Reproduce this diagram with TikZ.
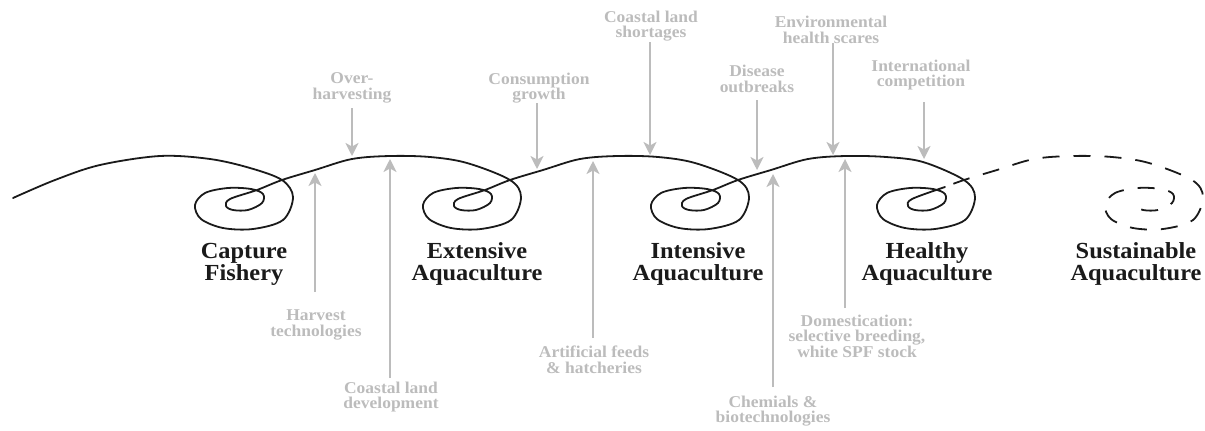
\documentclass[tikz,border=0pt]{standalone}
\usepackage{fontspec}
\setmainfont[FakeStretch=1.06]{Liberation Serif}
\usetikzlibrary{arrows.meta}
\definecolor{lgray}{RGB}{188,188,188}
\definecolor{ink}{RGB}{26,26,26}
\tikzset{
  stage/.style={align=center, inner sep=0pt, text=ink, font={\fontsize{23}{22}\selectfont\bfseries}},
  cause/.style={align=center, inner sep=0pt, text=lgray, font={\fontsize{16.5}{15.5}\selectfont\bfseries}},
  arr/.style={draw=lgray, line width=2pt, -{Stealth[length=13pt,width=13pt,inset=3.5pt]}},
  curve/.style={draw=ink, line width=1.8pt, line cap=round, line join=round},
}
\begin{document}
\begin{tikzpicture}[x=1pt,y=-1pt]
\useasboundingbox (0,0) rectangle (1205,431);

% main solid spiral path
\draw[curve] plot[smooth, tension=0.55] coordinates {
(13,198) (55,180) (100,165) (160,156) (210,159) (250,168)
(282,180) (293,197) (283,220) (253,229) (223,228) (201,219) (195,205) (205,193) (228,188) (251,189) (263,194) (262,203) (248,210) (233,210) (226,206) (230,199) (257,190) (282,180)
(315,170) (352,159) (390,156) (430,157) (467,163)
(510,180) (521,197) (511,220) (481,229) (451,228) (429,219) (423,205) (433,193) (456,188) (479,189) (491,194) (490,203) (476,210) (461,210) (454,206) (458,199) (485,190) (510,180)
(543,170) (580,159) (618,156) (658,157) (695,163)
(738,180) (749,197) (739,220) (709,229) (679,228) (657,219) (651,205) (661,193) (684,188) (707,189) (719,194) (718,203) (704,210) (689,210) (682,206) (686,199) (713,190) (738,180)
(771,170) (808,159) (846,156) (886,157) (923,162)
(964,180) (975,197) (965,220) (935,229) (905,228) (883,219) (877,205) (887,193) (910,188) (933,189) (945,194) (944,203) (930,210) (915,210) (908,206) (912,199) (945,187)
};

% dashed future path
\draw[curve, line cap=butt, dash pattern=on 17pt off 14pt, dash phase=22pt] plot[smooth, tension=0.55] coordinates {
(945,187) (964,180) (997,170) (1034,159) (1072,156) (1112,157) (1149,163)
(1192,180) (1203,197) (1193,220) (1163,229) (1133,228) (1111,219) (1105,205) (1115,193) (1138,188) (1161,189) (1173,194) (1172,203) (1158,210) (1143,210) (1136,206)
};

% stage labels
\node[stage] (cap) at (244,264) {Capture\\Fishery};
\node[stage] (ext) at (477,264) {Extensive\\Aquaculture};
\node[stage] (int) at (698,264) {Intensive\\Aquaculture};
\node[stage] (hea) at (927,264) {Healthy\\Aquaculture};
\node[stage] (sus) at (1136,264) {Sustainable\\Aquaculture};

% pressures (from above)
\node[cause] (over) at (352,88) {Over-\\harvesting};
\node[cause] (cons) at (539,88) {Consumption\\growth};
\node[cause] (shor) at (651,26) {Coastal land\\shortages};
\node[cause] (dise) at (757,79) {Disease\\outbreaks};
\node[cause] (envi) at (831,30) {Environmental\\health scares};
\node[cause] (intl) at (921,75) {International\\competition};

% enablers (from below)
\node[cause] (harv) at (316,325) {Harvest\\technologies};
\node[cause] (cdev) at (391,397) {Coastal land\\development};
\node[cause] (feed) at (594,360) {Artificial feeds\\\& hatcheries};
\node[cause] (chem) at (773,411) {Chemials \&\\biotechnologies};
\node[cause] (dome) at (857,336) {Domestication:\\selective breeding,\\white SPF stock};

% arrow coordinates
\coordinate (s1) at (352,108); \coordinate (t1) at (352,156);
\coordinate (s2) at (537,103); \coordinate (t2) at (537,169);
\coordinate (s3) at (650,42);  \coordinate (t3) at (650,155);
\coordinate (s4) at (757,100); \coordinate (t4) at (757,170);
\coordinate (s5) at (833,43);  \coordinate (t5) at (833,155);
\coordinate (s6) at (924,102); \coordinate (t6) at (924,159);

\coordinate (u1) at (315,292); \coordinate (v1) at (315,173);
\coordinate (u2) at (390,378); \coordinate (v2) at (390,159);
\coordinate (u3) at (593,338); \coordinate (v3) at (593,161);
\coordinate (u4) at (773,387); \coordinate (v4) at (773,174);
\coordinate (u5) at (845,308); \coordinate (v5) at (845,159);

\foreach \a/\b in {s1/t1,s2/t2,s3/t3,s4/t4,s5/t5,s6/t6,u1/v1,u2/v2,u3/v3,u4/v4,u5/v5}
  \draw[arr] (\a) -- (\b);
\end{tikzpicture}
\end{document}
